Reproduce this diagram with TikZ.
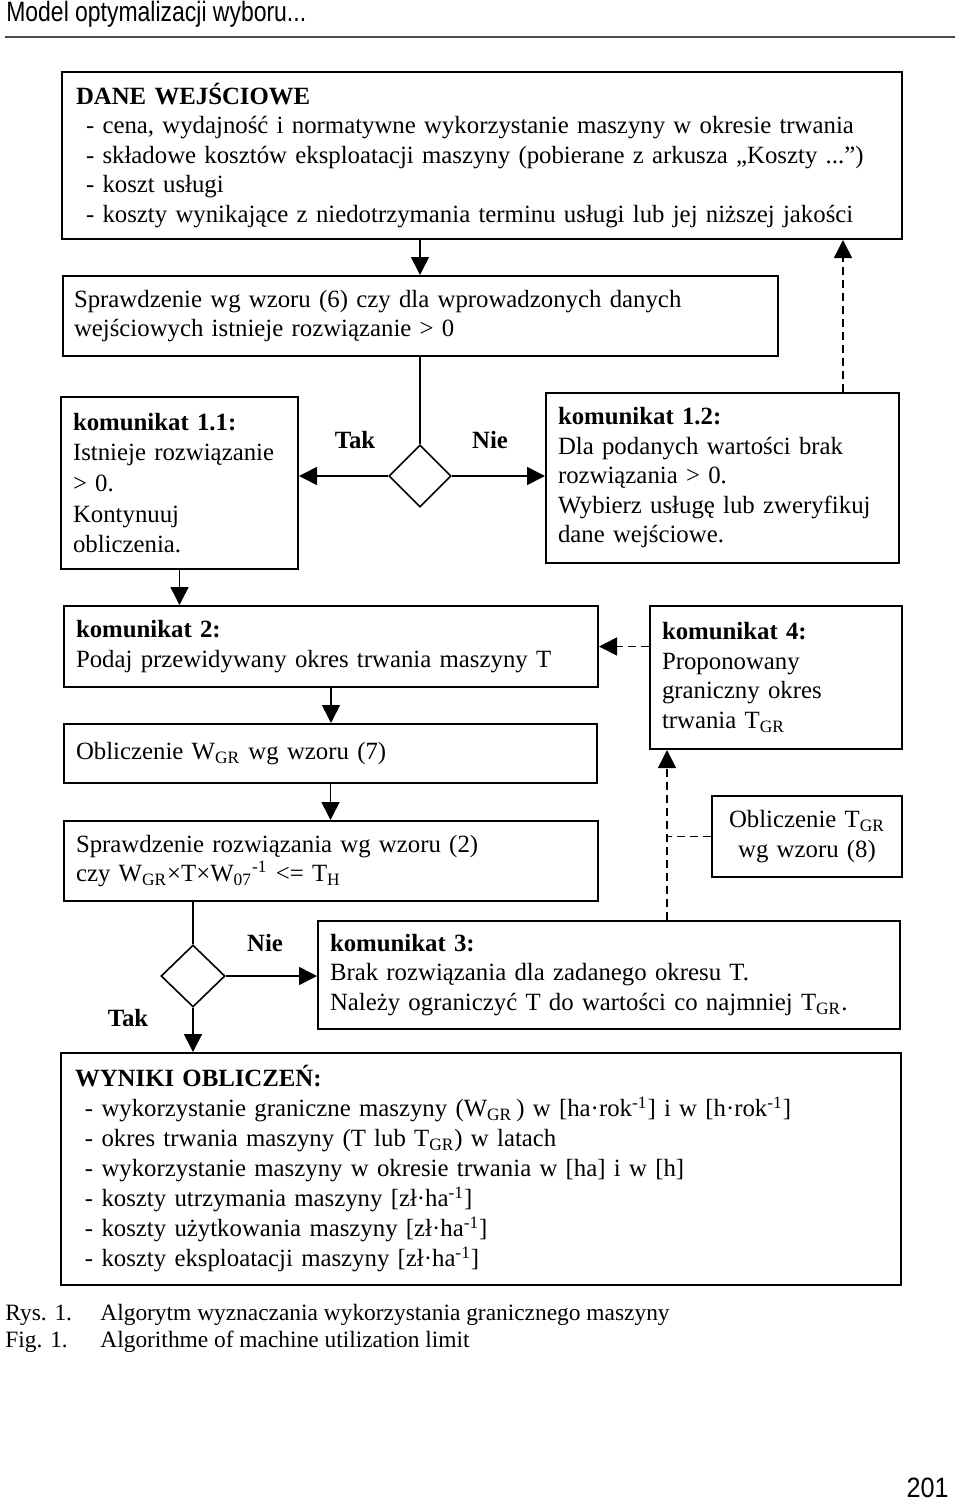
\documentclass[tikz,border=0pt]{standalone}
\usepackage{fontspec}
\setmainfont{Liberation Serif}
\setsansfont{Liberation Sans}
\usetikzlibrary{positioning, calc, shapes.geometric, arrows.meta}
\tikzstyle{Box} = [
draw,
line width=1pt,
rectangle,
anchor=north west,
align=left,
inner xsep=6pt, inner ysep=0pt,
font=\fontsize{12.4}{14.75}\selectfont]
\tikzstyle{Decision} = [draw, diamond, line width=0.8pt,
minimum width=31pt, minimum height=31pt, inner sep=0pt]
\tikzstyle{Label} = [font=\bfseries\fontsize{12.4}{14}\selectfont]
\tikzstyle{Caption} = [anchor=west, inner sep=0pt, font=\fontsize{11.7}{14}\selectfont]
\tikzstyle{Arrow} = [line width=0.8pt, -{Triangle[length=9pt,width=9pt]}]
\tikzstyle{DashArrow} = [Arrow, dash pattern=on 4pt off 2.5pt]
\tikzstyle{Dash} = [line width=0.8pt, dash pattern=on 4pt off 2.5pt]

\begin{document}
\begin{tikzpicture}[x=0.5pt, y=-0.5pt]
    \useasboundingbox (0,0) rectangle (960,1504);
    % page head
    \node [anchor=west, inner sep=0pt, font=\sffamily\fontsize{14}{16}\selectfont,
        xscale=0.82, transform shape] (head) at (6,14) {Model optymalizacji wyboru...};
    \draw [line width=1pt, gray!60!black] (5,37) -- (955,37);

    \node [Box, inner xsep=7pt, text width=406pt, minimum height=83.5pt] (dane) at (61,71)
        {\textbf{DANE WEJŚCIOWE}\\
        \hspace*{5pt}- cena, wydajność i normatywne wykorzystanie maszyny w okresie trwania\\
        \hspace*{5pt}- składowe kosztów eksploatacji maszyny (pobierane z arkusza „Koszty ...”)\\
        \hspace*{5pt}- koszt usługi\\
        \hspace*{5pt}- koszty wynikające z niedotrzymania terminu usługi lub jej niższej jakości};
    \node [Box, inner xsep=5.5pt, text width=346.5pt, minimum height=40pt] (spr) at (62,275)
        {Sprawdzenie wg wzoru (6) czy dla wprowadzonych danych\\
        wejściowych istnieje rozwiązanie > 0};
    \node [Decision] (dia1) at (420,476) {};
    \node [Box, text width=106.5pt, minimum height=86pt, font=\fontsize{12.4}{15.3}\selectfont] (k11) at (60,396)
        {\textbf{komunikat 1.1:}\\ Istnieje rozwiązanie\\ > 0.\\ Kontynuuj\\ obliczenia.};
    \node [Box, text width=164.5pt, minimum height=85pt] (k12) at (545,392)
        {\textbf{komunikat 1.2:}\\ Dla podanych wartości brak\\ rozwiązania > 0.\\
        Wybierz usługę lub zweryfikuj\\ dane wejściowe.};
    \node [Label] (tak1) at ([xshift=-32.5pt, yshift=18pt]dia1.center) {Tak};
    \node [Label] (nie1) at ([xshift=35pt, yshift=18pt]dia1.center) {Nie};

    \node [Box, text width=255pt, minimum height=40.5pt] (k2) at (63,605)
        {\textbf{komunikat 2:}\\ Podaj przewidywany okres trwania maszyny T};
    \node [Box, text width=114pt, minimum height=71.5pt, right=25pt of k2.north east, anchor=north west] (k4)
        {\textbf{komunikat 4:}\\ Proponowany\\ graniczny okres\\ trwania T\textsubscript{GR}};
    \node [Box, text width=254.5pt, minimum height=29.5pt, below=17.5pt of k2.south west, anchor=north west] (oblw)
        {Obliczenie W\textsubscript{GR} wg wzoru (7)};
    \node [Box, text width=255pt, minimum height=40pt, below=18pt of oblw.south west, anchor=north west] (spr2)
        {Sprawdzenie rozwiązania wg wzoru (2)\\
        czy W\textsubscript{GR}×T×W\textsubscript{07}\textsuperscript{-1} <= T\textsubscript{H}};
    \node [Box, align=center, text width=83pt, minimum height=40.5pt] (oblt) at (711,795)
        {Obliczenie T\textsubscript{GR}\\ wg wzoru (8)};
    \coordinate (tap) at ([xshift=9pt]k4.south west);

    \node [Decision, minimum width=32pt] (dia2) at (193,976) {};
    \node [Label] (nie2) at ([xshift=36pt, yshift=16.5pt]dia2.center) {Nie};
    \node [Label] (tak2) at ([xshift=-32.5pt, yshift=-21pt]dia2.center) {Tak};
    \node [Box, text width=279pt, minimum height=54pt] (k3) at (317,920)
        {\textbf{komunikat 3:}\\ Brak rozwiązania dla zadanego okresu T.\\
        Należy ograniczyć T do wartości co najmniej T\textsubscript{GR}.};

    \node [Box, inner xsep=7pt, text width=406pt, minimum height=116pt, font=\fontsize{12.4}{15}\selectfont] (wyniki) at (60,1052)
        {\textbf{WYNIKI OBLICZEŃ:}\\
        \hspace*{5pt}- wykorzystanie graniczne maszyny (W\textsubscript{GR}\,) w [ha·rok\textsuperscript{-1}] i w [h·rok\textsuperscript{-1}]\\
        \hspace*{5pt}- okres trwania maszyny (T lub T\textsubscript{GR}) w latach\\
        \hspace*{5pt}- wykorzystanie maszyny w okresie trwania w [ha] i w [h]\\
        \hspace*{5pt}- koszty utrzymania maszyny [zł·ha\textsuperscript{-1}]\\
        \hspace*{5pt}- koszty użytkowania maszyny [zł·ha\textsuperscript{-1}]\\
        \hspace*{5pt}- koszty eksploatacji maszyny [zł·ha\textsuperscript{-1}]};

    % caption
    \node [Caption] (rys) at (5,1315) {Rys. 1.};
    \node [Caption] (rysT) at (100,1315) {Algorytm wyznaczania wykorzystania granicznego maszyny};
    \node [Caption] (fig) at (5,1342) {Fig. 1.};
    \node [Caption] (figT) at (100,1342) {Algorithme of machine utilization limit};
    \node [anchor=east, inner sep=0pt, font=\sffamily\fontsize{14}{16}\selectfont,
        xscale=0.9, transform shape] (page) at (949,1488) {201};

    \draw[Arrow] (dia1 |- dane.south) -- (dia1 |- spr.north);
    \draw[line width=0.8pt] (dia1 |- spr.south) -- (dia1.north);
    \draw[Arrow] (dia1.west) -- (dia1.west -| k11.east);
    \draw[Arrow] (dia1.east) -- (dia1.east -| k12.west);
    \draw[DashArrow] ([xshift=-28.5pt]k12.north east) -- ([xshift=-28.5pt]k12.north east |- dane.south);
    \draw[Arrow] (k11.south) -- (k11.south |- k2.north);
    \draw[DashArrow] (k2.east -| k4.west) -- (k2.east);
    \draw[Arrow] (k2.south) -- (k2.south |- oblw.north);
    \draw[Arrow] (oblw.south) -- (oblw.south |- spr2.north);
    \draw[DashArrow] (tap |- k3.north) -- (tap);
    \draw[Dash] (oblt.west) -- (oblt.west -| tap);
    \draw[line width=0.8pt] (dia2 |- spr2.south) -- (dia2.north);
    \draw[Arrow] (dia2.east) -- (dia2.east -| k3.west);
    \draw[Arrow] (dia2.south) -- (dia2.south |- wyniki.north);
\end{tikzpicture}
\end{document}
